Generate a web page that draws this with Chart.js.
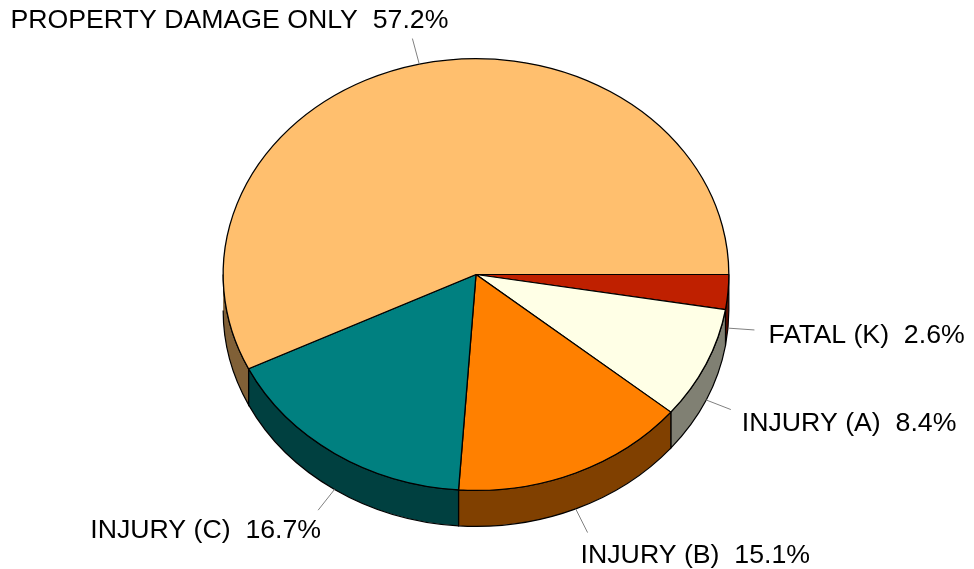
<!DOCTYPE html>
<html>
<head>
<meta charset="utf-8">
<style>
  html, body { margin: 0; padding: 0; background: #fff; }
  canvas { display: block; }
</style>
<script src="https://cdn.jsdelivr.net/npm/chart.js@4/dist/chart.umd.min.js"></script>
</head>
<body>
<canvas id="pie3d" width="974" height="569"></canvas>
<script>
const categories = ['FATAL (K)', 'INJURY (A)', 'INJURY (B)', 'INJURY (C)', 'PROPERTY DAMAGE ONLY'];
const percents = [2.6, 8.4, 15.1, 16.7, 57.2];
const topColors = ['#bf2000', '#ffffe6', '#ff8000', '#008080', '#ffbf6e'];
const wallColors = ['#601000', '#808073', '#804000', '#004040', '#806037'];

// label placement relative to the end of each leader line: dx, dy, text align
const labelPlace = [
  [14, 5.5, 'left'],
  [11, 14.5, 'left'],
  [-7, 23.5, 'left'],
  [3, 20.5, 'right'],
  [36, -17.5, 'right']
];

const TILT = 216 / 253;  // squash of the pie top
const DEPTH = 36;        // wall height
const LEADER = 26.5;

const pie3d = {
  id: 'pie3d',
  beforeDatasetsDraw(chart) {
    const ctx = chart.ctx;
    const arcs = chart.getDatasetMeta(0).data;
    const cx = arcs[0].x, cy = arcs[0].y, rx = arcs[0].outerRadius, ry = rx * TILT;

    // walls, only the front half is visible
    arcs.forEach((arc, i) => {
      const a0 = arc.startAngle, a1 = Math.min(arc.endAngle, Math.PI);
      if (a0 >= Math.PI) return;
      ctx.beginPath();
      ctx.ellipse(cx, cy, rx, ry, 0, a0, a1);
      ctx.ellipse(cx, cy + DEPTH, rx, ry, 0, a1, a0, true);
      ctx.closePath();
      ctx.fillStyle = wallColors[i];
      ctx.fill();

      // no edge line where the wall runs out at the far left
      ctx.beginPath();
      ctx.ellipse(cx, cy, rx, ry, 0, a1, a0, true);
      ctx.ellipse(cx, cy + DEPTH, rx, ry, 0, a0, a1);
      if (a1 < Math.PI) ctx.closePath();
      ctx.lineWidth = 1.2;
      ctx.strokeStyle = '#000';
      ctx.stroke();
    });

    // squash the library's own arcs into the tilted top
    ctx.save();
    ctx.translate(0, cy);
    ctx.scale(1, TILT);
    ctx.translate(0, -cy);
  },
  afterDatasetsDraw(chart) {
    const ctx = chart.ctx;
    ctx.restore();

    const arcs = chart.getDatasetMeta(0).data;
    ctx.font = '26.7px "Liberation Sans", Arial, sans-serif';
    ctx.textBaseline = 'middle';
    arcs.forEach((arc, i) => {
      const rx = arc.outerRadius, ry = rx * TILT;
      const mid = (arc.startAngle + arc.endAngle) / 2;
      const dx = rx * Math.cos(mid), dy = ry * Math.sin(mid);
      const len = Math.hypot(dx, dy);
      const x0 = arc.x + dx;
      const y0 = arc.y + dy + (Math.sin(mid) > 0 ? DEPTH : 0);
      const x1 = x0 + dx / len * LEADER;
      const y1 = y0 + dy / len * LEADER;

      ctx.beginPath();
      ctx.moveTo(x0, y0);
      ctx.lineTo(x1, y1);
      ctx.lineWidth = 1;
      ctx.strokeStyle = '#808080';
      ctx.stroke();

      const p = labelPlace[i];
      ctx.textAlign = p[2];
      ctx.fillStyle = '#000';
      ctx.fillText(categories[i] + '  ' + percents[i].toFixed(1) + '%', x1 + p[0], y1 + p[1]);
    });
  }
};

new Chart(document.getElementById('pie3d').getContext('2d'), {
  type: 'pie',
  data: {
    labels: categories,
    datasets: [{
      data: percents,
      backgroundColor: topColors,
      borderColor: '#000',
      borderWidth: 1.3,
      hoverOffset: 0
    }]
  },
  options: {
    responsive: false,
    animation: false,
    rotation: 90,
    events: [],
    layout: { padding: { left: 222.5, right: 244.5, top: 21, bottom: 41 } },
    plugins: { legend: { display: false }, tooltip: { enabled: false } }
  },
  plugins: [pie3d]
});
</script>
</body>
</html>
